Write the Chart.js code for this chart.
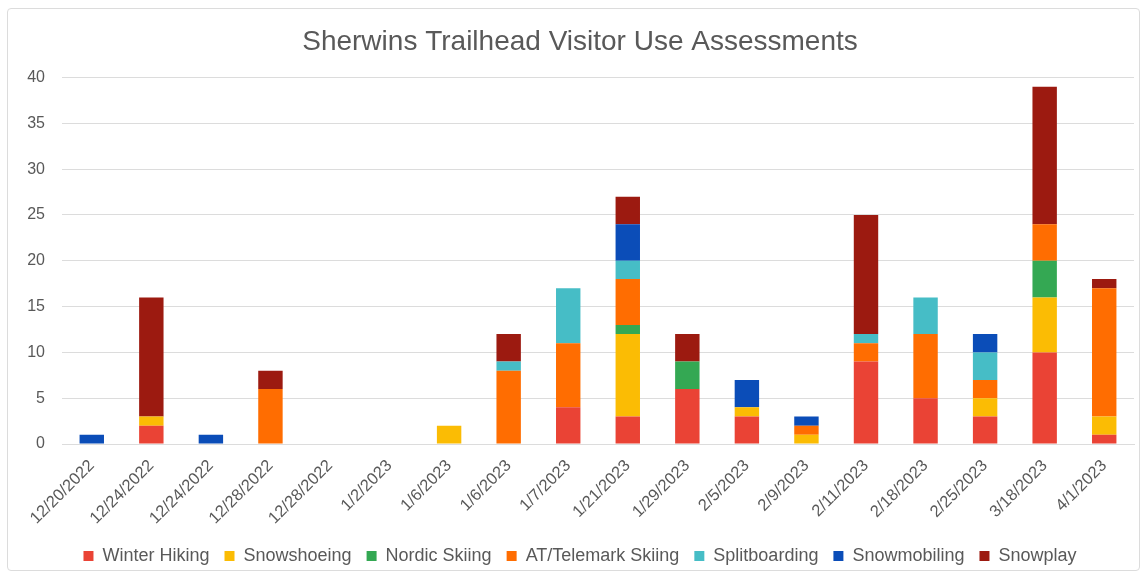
<!DOCTYPE html>
<html>
<head>
<meta charset="utf-8">
<script src="https://cdn.jsdelivr.net/npm/chart.js@4/dist/chart.umd.min.js"></script>
<style>
  html, body { margin: 0; padding: 0; background: #fff; }
  #wrap {
    position: absolute; left: 7px; top: 8px;
    width: 1133px; height: 563px;
    border: 1px solid #dcdcdc; border-radius: 4px;
    box-sizing: border-box;
  }
</style>
</head>
<body>
<div id="wrap"><canvas id="chart"></canvas></div>
<script>
// Visit dates (some dates have two assessments)
const dates = ["12/20/2022", "12/24/2022", "12/24/2022", "12/28/2022", "12/28/2022", "1/2/2023",
  "1/6/2023", "1/6/2023", "1/7/2023", "1/21/2023", "1/29/2023", "2/5/2023", "2/9/2023",
  "2/11/2023", "2/18/2023", "2/25/2023", "3/18/2023", "4/1/2023"];

// Visitors counted per activity
const winterHiking   = [0, 2, 0, 0, 0, 0, 0, 0, 4, 3, 6, 3, 0, 9, 5, 3, 10, 1];
const snowshoeing    = [0, 1, 0, 0, 0, 0, 2, 0, 0, 9, 0, 1, 1, 0, 0, 2, 6, 2];
const nordicSkiing   = [0, 0, 0, 0, 0, 0, 0, 0, 0, 1, 3, 0, 0, 0, 0, 0, 4, 0];
const atTelemark     = [0, 0, 0, 6, 0, 0, 0, 8, 7, 5, 0, 0, 1, 2, 7, 2, 4, 14];
const splitboarding  = [0, 0, 0, 0, 0, 0, 0, 1, 6, 2, 0, 0, 0, 1, 4, 3, 0, 0];
const snowmobiling   = [1, 0, 1, 0, 0, 0, 0, 0, 0, 4, 0, 3, 1, 0, 0, 2, 0, 0];
const snowplay       = [0, 13, 0, 2, 0, 0, 0, 3, 0, 3, 3, 0, 0, 13, 0, 0, 15, 1];

const yTicks = [0, 5, 10, 15, 20, 25, 30, 35, 40];

const FONT = "'Liberation Sans', Arial, sans-serif";
const TEXT = "#595959";

const series = [
  { label: "Winter Hiking", data: winterHiking, color: "#EA4335" },
  { label: "Snowshoeing", data: snowshoeing, color: "#FBBC04" },
  { label: "Nordic Skiing", data: nordicSkiing, color: "#34A853" },
  { label: "AT/Telemark Skiing", data: atTelemark, color: "#FF6D01" },
  { label: "Splitboarding", data: splitboarding, color: "#46BDC6" },
  { label: "Snowmobiling", data: snowmobiling, color: "#0B4DB8" },
  { label: "Snowplay", data: snowplay, color: "#9C1A10" }
];

// wide gaps between legend entries, but keep the row close to the bottom edge
const trimLegend = {
  id: "trimLegend",
  beforeLayout(chart) {
    const lg = chart.legend;
    if (lg && !lg._trimmed) {
      const fit = lg.fit;
      lg.fit = function () { fit.call(this); this.height -= 5; };
      lg._trimmed = true;
    }
  }
};

new Chart(document.getElementById("chart"), {
  type: "bar",
  data: {
    labels: dates,
    datasets: series.map(s => ({
      label: s.label,
      data: s.data,
      backgroundColor: s.color,
      borderWidth: 0,
      barPercentage: 0.82,
      categoryPercentage: 0.5
    }))
  },
  plugins: [trimLegend],
  options: {
    responsive: true,
    maintainAspectRatio: false,
    animation: false,
    layout: { padding: { left: 18, right: 5, top: 0, bottom: 0 } },
    plugins: {
      title: {
        display: true,
        text: "Sherwins Trailhead Visitor Use Assessments",
        color: TEXT,
        font: { family: FONT, size: 28, weight: "normal" },
        padding: { top: 16, bottom: 19 }
      },
      legend: {
        position: "bottom",
        labels: {
          color: TEXT,
          font: { family: FONT, size: 18 },
          boxWidth: 10,
          boxHeight: 10,
          padding: 15
        }
      },
      tooltip: { enabled: false }
    },
    scales: {
      x: {
        stacked: true,
        grid: { display: false },
        border: { color: "#dcdcdc" },
        afterFit: axis => { axis.height = 88; },
        ticks: {
          color: TEXT,
          font: { family: FONT, size: 16.5 },
          minRotation: 45,
          maxRotation: 45,
          autoSkip: false,
          padding: 4
        }
      },
      y: {
        stacked: true,
        min: 0,
        max: 40,
        afterBuildTicks: axis => { axis.ticks = yTicks.map(v => ({ value: v })); },
        afterFit: axis => { axis.width = 36; },
        grid: { color: "#dcdcdc", drawTicks: false },
        border: { display: false },
        ticks: {
          color: TEXT,
          font: { family: FONT, size: 16 },
          padding: 17
        }
      }
    }
  }
});
</script>
</body>
</html>
